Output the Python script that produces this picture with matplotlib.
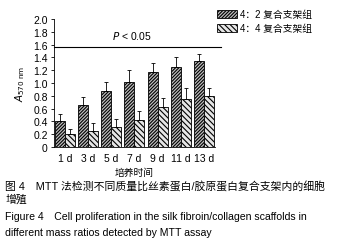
import numpy as np
import matplotlib
matplotlib.use("Agg")
import matplotlib.pyplot as plt
from matplotlib.patches import Patch

plt.rcParams['font.family'] = ['Liberation Sans', 'Noto Sans CJK SC', 'DejaVu Sans']
plt.rcParams['hatch.linewidth'] = 0.8

days = ["1 d", "3 d", "5 d", "7 d", "9 d", "11 d", "13 d"]
g42 = [0.41, 0.66, 0.87, 1.02, 1.17, 1.25, 1.34]
g42_top = [0.51, 0.79, 1.01, 1.20, 1.31, 1.40, 1.45]
g44 = [0.20, 0.25, 0.32, 0.42, 0.63, 0.75, 0.80]
g44_top = [0.29, 0.38, 0.44, 0.57, 0.77, 0.92, 0.93]
labels = ["4：2 复合支架组", "4：4 复合支架组"]

h42 = "/" * 10
h44 = "\\" * 6

fig = plt.figure(figsize=(3.39, 2.51), dpi=100)
ax = fig.add_axes([0.159, 0.41, 0.475, 0.51])

x = np.arange(len(days))
w = 0.43
err42 = [np.zeros(len(g42)), np.array(g42_top) - np.array(g42)]
err44 = [np.zeros(len(g44)), np.array(g44_top) - np.array(g44)]
ax.bar(x - w / 2, g42, w, color="#bdbdbd", edgecolor="black", hatch=h42, linewidth=0.6,
       yerr=err42, error_kw=dict(ecolor="black", elinewidth=0.6, capsize=1.5, capthick=0.6))
ax.bar(x + w / 2, g44, w, color="#e6e6e6", edgecolor="black", hatch=h44, linewidth=0.6,
       yerr=err44, error_kw=dict(ecolor="black", elinewidth=0.6, capsize=1.5, capthick=0.6))

ax.set_xlim(-0.47, 6.47)
ax.set_ylim(0, 2.0)
yt = np.arange(0, 2.01, 0.2)
ax.set_yticks(yt)
ax.set_yticklabels(["0"] + ["%.1f" % v for v in yt[1:]], fontsize=7.5)
ax.set_xticks(x)
ax.set_xticklabels(days, fontsize=7.5)
ax.tick_params(axis="x", length=0, pad=4)
ax.tick_params(axis="y", length=2.5, width=0.6, pad=2)
ax.spines["top"].set_visible(False)
ax.spines["right"].set_visible(False)
ax.spines["left"].set_linewidth(0.6)
ax.spines["bottom"].set_linewidth(0.6)

ax.axhline(1.56, xmin=0, xmax=1.04, color="black", linewidth=0.8, clip_on=False)
ax.text(2.9, 1.75, "$P$ < 0.05", fontsize=7.5, ha="center", va="center")

ax.set_ylabel(r"$A_{\mathrm{570\ nm}}$", fontsize=7.5, labelpad=4)
ax.set_xlabel("培养时间", fontsize=7, labelpad=3)

handles = [Patch(facecolor="#bdbdbd", edgecolor="black", hatch=h42, linewidth=0.6),
           Patch(facecolor="#e6e6e6", edgecolor="black", hatch=h44, linewidth=0.6)]
fig.legend(handles, labels, loc="upper left", bbox_to_anchor=(0.615, 0.995), frameon=False,
           fontsize=7, handlelength=2.0, handleheight=0.9, handletextpad=0.3, labelspacing=0.45)

fig.text(0.015, 0.258, "图 4　MTT 法检测不同质量比丝素蛋白/胶原蛋白复合支架内的细胞", fontsize=7.8, va="center")
fig.text(0.015, 0.205, "增殖", fontsize=7.8, va="center")
fig.text(0.015, 0.135, "Figure 4　Cell proliferation in the silk fibroin/collagen scaffolds in", fontsize=7.6, va="center")
fig.text(0.015, 0.072, "different mass ratios detected by MTT assay", fontsize=7.6, va="center")

fig.savefig("out.png", dpi=100)
